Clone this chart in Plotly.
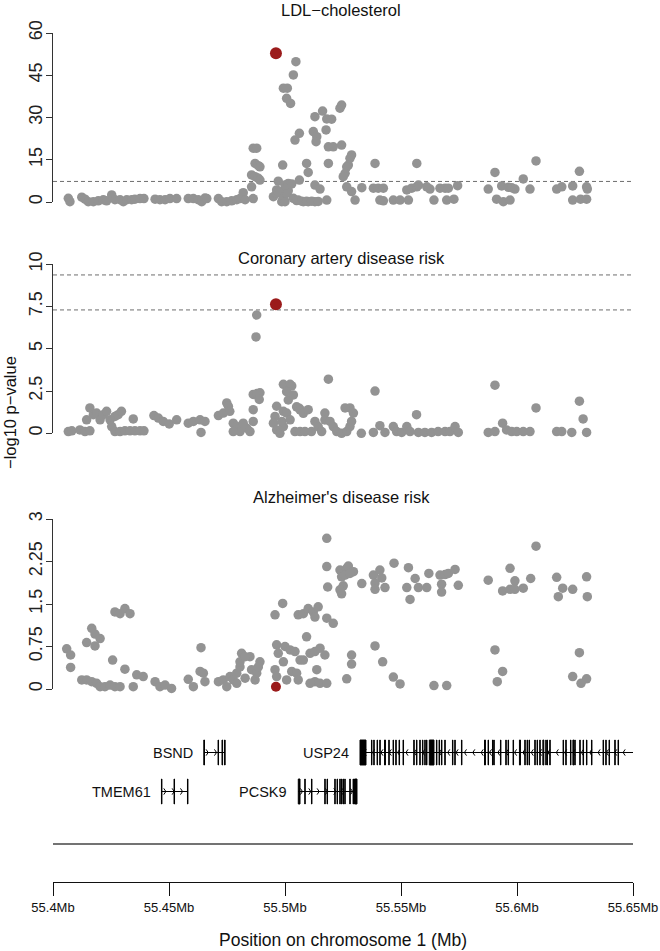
import numpy as np
import plotly.graph_objects as go

FONT = "Liberation Sans, Arial, Helvetica, sans-serif"

# ---------------- data ----------------
x_ticks = [55.4, 55.45, 55.5, 55.55, 55.6, 55.65]
x_ticktext = ["55.4Mb", "55.45Mb", "55.5Mb", "55.55Mb", "55.6Mb", "55.65Mb"]

ldl_ticks = [0, 15, 30, 45, 60]
cad_ticks = [0, 2.5, 5, 7.5, 10]
ad_ticks = [0, 0.75, 1.5, 2.25, 3]

ldl_threshold = [7.3]
cad_threshold = [7.3, 9.37]

lead_pos = 55.4961
lead_ldl = 52.8
lead_cad = 7.63
lead_ad = 0.04

ldl_pos = [55.4066, 55.4073, 55.4124, 55.4138, 55.4152, 55.4174, 55.4195, 55.4217, 55.4231, 55.4253, 55.4267, 55.4289, 55.4303, 55.4318, 55.4339, 55.4353, 55.4375, 55.4392,
           55.4440, 55.4461, 55.4483, 55.4504, 55.4533,
           55.4583, 55.4605, 55.4626, 55.4641, 55.4655, 55.4663,
           55.4713, 55.4727, 55.4749, 55.4770, 55.4792, 55.4806, 55.4820, 55.4828, 55.4856, 55.4863,
           55.4863, 55.4878, 55.4871, 55.4885, 55.4892, 55.4856, 55.4871, 55.4885, 55.4892,
           55.4950, 55.4964, 55.4964, 55.4971, 55.4978, 55.4986, 55.4993, 55.5000, 55.5007, 55.5014, 55.5000, 55.5014, 55.5029,
           55.5047, 55.5036, 55.4993, 55.5010, 55.5007, 55.5024, 55.5043, 55.5062, 55.4990, 55.5062, 55.5036, 55.5057, 55.5079, 55.5100, 55.5129,
           55.5050, 55.5072, 55.5093, 55.5115, 55.5143,
           55.5093, 55.5100, 55.5122, 55.5137, 55.5129, 55.5134, 55.5162, 55.5177, 55.5180, 55.5129, 55.5151, 55.5180, 55.5187, 55.5187,
           55.5201, 55.5208, 55.5237, 55.5244, 55.5244, 55.5287, 55.5280, 55.5273, 55.5266, 55.5259, 55.5251, 55.5266, 55.5287, 55.5302, 55.5331,
           55.5388, 55.5381, 55.5402, 55.5424, 55.5409, 55.5424, 55.5467, 55.5496, 55.5532, 55.5525, 55.5546, 55.5568, 55.5575, 55.5568, 55.5611, 55.5625, 55.5642, 55.5668, 55.5690, 55.5704, 55.5697, 55.5728, 55.5744,
           55.5876, 55.5905, 55.5912, 55.5941, 55.5970, 55.5934, 55.5963, 55.5977, 55.5991, 55.6027, 55.6056, 55.6082, 55.6171, 55.6193, 55.6240, 55.6240, 55.6274, 55.6300, 55.6269, 55.6300, 55.6303]
ldl_val = [1.3, 0.1, 1.7, 1.0, 0.1, 0.1, 0.4, 0.8, 0.4, 2.5, 0.8, 0.8, 0.1, 0.8, 0.8, 1.0, 1.2, 1.2,
           1.0, 0.8, 0.8, 1.2, 1.2,
           1.2, 1.2, 0.8, 0.1, 1.4, 1.2,
           1.2, 0.1, 0.1, 0.4, 0.8, 1.2, 3.3, 0.8, 5.4, 1.2,
           19.1, 19.1, 13.7, 12.9, 12.5, 9.6, 9.0, 8.4, 7.8,
           1.9, 3.1, 4.3, 7.4, 3.7, 0.1, 1.3, 0.1, 3.1, 4.0, 6.0, 6.6, 6.4,
           49.8, 45.1, 40.4, 40.4, 36.8, 35.0, 22.0, 24.4, 13.1, 7.8, 1.3, 0.7, 0.1, 0.1, 0.1,
           0.5, 0.3, 0.3, 0.3, 0.2,
           13.7, 10.5, 25.0, 23.2, 30.3, 21.4, 32.3, 25.6, 29.5, 6.0, 4.6, 0.7, 19.6, 13.7,
           29.4, 19.6, 33.3, 34.4, 20.2, 16.7, 15.5, 13.1, 12.5, 10.2, 9.0, 5.4, 3.7, 0.7, 5.1,
           13.7, 4.9, 4.9, 4.9, 0.7, 0.4, 0.7, 0.7, 0.7, 4.3, 4.9, 5.4, 6.0, 13.7, 5.4, 4.6, 0.7, 4.9, 4.9, 4.9, 0.7, 1.0, 5.8,
           4.6, 10.5, 1.0, 0.1, 0.7, 5.7, 5.2, 5.1, 4.6, 8.2, 4.6, 14.6, 4.6, 5.4, 5.7, 0.7, 1.0, 1.0, 10.9, 5.4, 4.6]

cad_pos = [55.4066, 55.4081, 55.4116, 55.4138, 55.4159, 55.4159,
           55.4145, 55.4174, 55.4188, 55.4203, 55.4217, 55.4231, 55.4246, 55.4267, 55.4281, 55.4295,
           55.4253, 55.4267, 55.4289, 55.4310, 55.4332, 55.4353, 55.4375, 55.4392, 55.4346,
           55.4435, 55.4454, 55.4475, 55.4501, 55.4533,
           55.4583, 55.4605, 55.4634, 55.4655, 55.4638,
           55.4713, 55.4734, 55.4749, 55.4756, 55.4762,
           55.4777, 55.4792, 55.4806, 55.4820, 55.4835, 55.4849, 55.4863, 55.4777,
           55.4863, 55.4863, 55.4878, 55.4892, 55.4889, 55.4878, 55.4875,
           55.4964, 55.4957, 55.4950, 55.4964, 55.4978, 55.4993, 55.4993, 55.5007, 55.4986, 55.5022,
           55.4993, 55.5022, 55.5029, 55.5007, 55.5014, 55.5036, 55.5050, 55.5062, 55.5065, 55.5079,
           55.5043, 55.5065, 55.5086, 55.5100, 55.5114, 55.5129, 55.5143, 55.5158, 55.5172, 55.5187, 55.5172,
           55.5194, 55.5208, 55.5223, 55.5244, 55.5266, 55.5280, 55.5287, 55.5295, 55.5280, 55.5259,
           55.5329, 55.5388, 55.5381, 55.5409, 55.5431,
           55.5467, 55.5481, 55.5503, 55.5525, 55.5539, 55.5567, 55.5575,
           55.5603, 55.5632, 55.5660, 55.5690, 55.5711, 55.5733, 55.5747,
           55.5876, 55.5905, 55.5938, 55.5955, 55.5977, 55.5999, 55.6027, 55.6056, 55.5905, 55.6082,
           55.6171, 55.6193, 55.6236, 55.6285, 55.6300, 55.6269]
cad_val = [0.1, 0.15, 0.2, 0.1, 0.15, 1.5,
           0.8, 1.1, 1.2, 0.8, 1.1, 1.3, 0.8, 1.0, 1.1, 1.3,
           0.4, 0.1, 0.1, 0.15, 0.15, 0.15, 0.15, 0.15, 0.85,
           1.05, 0.9, 0.7, 0.55, 0.8,
           0.6, 0.7, 0.8, 0.7, 0.05,
           1.05, 1.2, 1.8, 1.6, 1.3,
           0.6, 0.4, 0.1, 0.6, 0.3, 0.1, 0.7, 0.1,
           1.4, 2.3, 2.35, 2.4, 2.0, 7.0, 5.7,
           1.6, 1.0, 0.6, 0.2, 0.0, 0.4, 1.3, 1.2, 0.7, 0.8,
           2.9, 2.9, 2.8, 2.46, 1.97, 2.27, 1.57, 1.48, 1.38, 1.18,
           0.1, 0.1, 0.1, 1.4, 0.1, 0.7, 0.4, 0.1, 1.2, 3.2, 0.79,
           0.7, 0.4, 0.1, 0.0, 0.1, 0.4, 0.7, 1.2, 1.5, 1.5,
           0.0, 2.5, 0.05, 0.45, 0.05,
           0.4, 0.1, 0.05, 0.4, 0.1, 1.1, 0.05,
           0.05, 0.05, 0.1, 0.1, 0.1, 0.4, 0.05,
           0.05, 0.1, 0.6, 0.2, 0.1, 0.1, 0.1, 0.1, 2.85, 1.5,
           0.1, 0.1, 0.05, 0.85, 0.05, 1.9]

ad_pos = [55.4059, 55.4076, 55.4076,
          55.4124, 55.4145, 55.4167, 55.4188, 55.4203, 55.4224, 55.4246, 55.4267, 55.4289,
          55.4145, 55.4167, 55.4181, 55.4203, 55.4181, 55.4257,
          55.4267, 55.4289, 55.4310, 55.4332, 55.4310,
          55.4346, 55.4361, 55.4389,
          55.4440, 55.4461, 55.4483, 55.4511,
          55.4583, 55.4605, 55.4634, 55.4648, 55.4655, 55.4638,
          55.4713, 55.4734, 55.4749, 55.4763, 55.4777, 55.4792, 55.4806, 55.4813, 55.4828, 55.4849, 55.4856, 55.4871, 55.4878, 55.4892, 55.4885, 55.4806, 55.4828, 55.4792,
          55.4957, 55.4990,
          55.4964, 55.4971, 55.4993, 55.4957, 55.4964, 55.5000, 55.5022, 55.5043, 55.5007, 55.5029, 55.5050, 55.5057, 55.5065, 55.5079,
          55.5057, 55.5079, 55.5100, 55.5122, 55.5143, 55.5129,
          55.5093, 55.5108, 55.5129, 55.5151, 55.5172, 55.5137, 55.5129, 55.5108, 55.5151,
          55.5180, 55.5180, 55.5184, 55.5180, 55.5180, 55.5208,
          55.5237, 55.5251, 55.5266, 55.5273, 55.5295, 55.5244, 55.5259, 55.5280, 55.5251, 55.5244, 55.5237,
          55.5331, 55.5287, 55.5287, 55.5266,
          55.5381, 55.5409, 55.5417, 55.5388, 55.5388, 55.5431, 55.5388, 55.5421,
          55.5470, 55.5467, 55.5496,
          55.5532, 55.5561, 55.5525, 55.5575, 55.5539, 55.5611, 55.5620,
          55.5668, 55.5690, 55.5704, 55.5733, 55.5675, 55.5675, 55.5747, 55.5642, 55.5697,
          55.5876, 55.5905, 55.5938, 55.5915,
          55.5970, 55.5991, 55.5938, 55.5970, 55.5991, 55.6027, 55.6059, 55.6082,
          55.6171, 55.6197, 55.6178, 55.6240, 55.6300, 55.6303, 55.6269, 55.6240, 55.6276, 55.6300]
ad_val = [0.71, 0.6, 0.38,
          0.16, 0.16, 0.13, 0.10, 0.04, 0.04, 0.07, 0.04, 0.04,
          0.82, 1.07, 0.97, 0.89, 0.76, 0.51,
          1.36, 1.33, 1.42, 1.33, 0.35,
          0.04, 0.25, 0.22,
          0.13, 0.04, 0.07, 0.01,
          0.17, 0.04, 0.31, 0.28, 0.13, 0.73,
          0.13, 0.16, 0.04, 0.22, 0.16, 0.10, 0.39, 0.63, 0.19, 0.57, 0.34, 0.16, 0.28, 0.48, 0.39, 0.48, 0.57, 0.28,
          1.31, 1.51,
          0.78, 0.63, 0.48, 0.34, 0.22, 0.75, 0.69, 0.66, 0.16, 0.31, 0.28, 0.16, 0.51, 0.51,
          1.31, 1.33, 1.42, 1.36, 1.45, 1.27,
          0.92, 0.63, 0.66, 0.72, 0.60, 0.34, 0.13, 0.10, 0.10,
          2.66, 2.16, 1.80, 1.25, 0.10, 1.16,
          2.10, 2.04, 2.13, 2.17, 2.07, 1.98, 2.01, 2.04, 1.82, 1.68, 1.75,
          1.86, 0.60, 0.44, 0.18,
          2.01, 2.10, 1.96, 1.87, 1.76, 1.79, 0.76, 0.48,
          2.22, 0.21, 0.09,
          2.14, 1.95, 1.79, 1.79, 1.58, 1.79, 2.04,
          2.01, 2.02, 2.04, 2.11, 1.85, 1.71, 1.83, 0.06, 0.06,
          1.92, 0.69, 0.31, 0.13,
          2.13, 1.91, 1.73, 1.76, 1.76, 1.78, 1.95, 2.52,
          1.97, 1.78, 1.63, 1.76, 1.98, 1.63, 0.64, 0.22, 0.10, 0.18]

# genes: name, row, strand, start, end, exons (start, end) in Mb
gene_names = ["BSND", "USP24", "TMEM61", "PCSK9"]
gene_rows = [1, 1, 2, 2]
gene_strands = ["+", "-", "+", "+"]
gene_starts = [55.46509, 55.53233, 55.44685, 55.50573]
gene_ends = [55.47414, 55.65013, 55.45806, 55.53103]
bsnd_exons = [(55.46500, 55.46530), (55.47115, 55.47135), (55.47285, 55.47310), (55.47395, 55.47420)]
usp24_exons = [(55.53233, 55.53491), (55.53727, 55.53747), (55.53826, 55.53846), (55.53969, 55.53989),
               (55.54085, 55.54105), (55.54290, 55.54330), (55.54473, 55.54493), (55.54658, 55.54678),
               (55.54774, 55.54794), (55.54917, 55.54937), (55.55089, 55.55109), (55.55550, 55.55570),
               (55.55667, 55.55687), (55.55809, 55.55829), (55.55925, 55.55945), (55.56024, 55.56044),
               (55.56098, 55.56118), (55.56220, 55.56422), (55.56527, 55.56547), (55.56641, 55.56661),
               (55.56744, 55.56764), (55.56887, 55.56907), (55.57218, 55.57238), (55.57318, 55.57338),
               (55.57606, 55.57626), (55.58600, 55.58640), (55.58753, 55.58773), (55.58943, 55.58963),
               (55.58999, 55.59019), (55.59287, 55.59307), (55.59516, 55.59536), (55.59616, 55.59636),
               (55.59831, 55.59851), (55.60105, 55.60150), (55.60335, 55.60355), (55.60434, 55.60454),
               (55.60520, 55.60540), (55.60766, 55.60786), (55.60865, 55.60885), (55.60981, 55.61001),
               (55.61115, 55.61155), (55.61240, 55.61260), (55.61296, 55.61316), (55.61412, 55.61432),
               (55.61986, 55.62006), (55.62102, 55.62122), (55.62305, 55.62325), (55.62410, 55.62450),
               (55.62490, 55.62510), (55.62706, 55.62726), (55.62848, 55.62868), (55.62994, 55.63014),
               (55.63210, 55.63230), (55.63710, 55.63730), (55.63826, 55.63846), (55.63968, 55.63988),
               (55.64214, 55.64234), (55.64356, 55.64376)]
tmem61_exons = [(55.44675, 55.44695), (55.45218, 55.45238), (55.45796, 55.45816)]
pcsk9_exons = [(55.50573, 55.50647), (55.50852, 55.50872), (55.51141, 55.51161), (55.51714, 55.51734),
               (55.51813, 55.51833), (55.52145, 55.52165), (55.52244, 55.52264), (55.52361, 55.52381),
               (55.52434, 55.52454), (55.52503, 55.52523), (55.52576, 55.52596), (55.52792, 55.52812),
               (55.52934, 55.52954), (55.52996, 55.53103)]
gene_exons = [bsnd_exons, usp24_exons, tmem61_exons, pcsk9_exons]

GRAY = "#939393"
RED = "#9b1b1b"
AXC = "#333333"

H = 951.0


def pdom(top_px, bottom_px):
    return [1 - bottom_px / H, 1 - top_px / H]


fig = go.Figure()

# scatter panels
panels = [("y", ldl_pos, ldl_val, lead_ldl, 12, True),
          ("y2", cad_pos, cad_val, lead_cad, 12, True),
          ("y3", ad_pos, ad_val, lead_ad, 10, False)]
for yax, xs, ys, lead_y, lead_size, lead_on_top in panels:
    lead_trace = go.Scatter(x=[lead_pos], y=[lead_y], mode="markers", xaxis="x", yaxis=yax,
                            marker=dict(color=RED, size=lead_size, line=dict(width=0)),
                            cliponaxis=False, hoverinfo="skip", showlegend=False)
    main_trace = go.Scatter(x=xs, y=ys, mode="markers", xaxis="x", yaxis=yax,
                            marker=dict(color=GRAY, size=9.5, line=dict(width=0)),
                            cliponaxis=False, hoverinfo="skip", showlegend=False)
    if lead_on_top:
        fig.add_trace(main_trace)
        fig.add_trace(lead_trace)
    else:
        fig.add_trace(lead_trace)
        fig.add_trace(main_trace)

shapes = []
for yref, ths in (("y", ldl_threshold), ("y2", cad_threshold)):
    for t in ths:
        shapes.append(dict(type="line", xref="x", yref=yref, x0=55.4, x1=55.65, y0=t, y1=t,
                           line=dict(color="#6e6e6e", width=1, dash="4px,3px"), layer="below"))

# gene track
chev_x, chev_y = [], []
line_x, line_y = [], []
annotations = []
for name, row, strand, s, e, exons in zip(gene_names, gene_rows, gene_strands, gene_starts, gene_ends, gene_exons):
    line_x += [s, e, None]
    line_y += [row, row, None]
    for (a, b) in exons:
        shapes.append(dict(type="rect", xref="x", yref="y4", x0=a, x1=b, y0=row - 0.32, y1=row + 0.32,
                           line=dict(color="black", width=1), fillcolor="black"))
    step = 0.0036
    dx = 0.0009 if strand == "+" else -0.0009
    for c in np.arange(s + step / 2, e - 0.0008, step):
        chev_x += [c - dx, c, c - dx, None]
        chev_y += [row - 0.08, row, row + 0.08, None]
    annotations.append(dict(xref="x", yref="y4", x=s, y=row, text=name, showarrow=False,
                            xanchor="right", yanchor="middle", xshift=-9,
                            font=dict(family=FONT, size=14.5, color="#111")))

fig.add_trace(go.Scatter(x=line_x, y=line_y, mode="lines", xaxis="x", yaxis="y4",
                         line=dict(color="black", width=1), hoverinfo="skip", showlegend=False))
fig.add_trace(go.Scatter(x=chev_x, y=chev_y, mode="lines", xaxis="x", yaxis="y4",
                         line=dict(color="black", width=1), hoverinfo="skip", showlegend=False))

# horizontal separator line below genes
shapes.append(dict(type="line", xref="x", yref="paper", x0=55.4, x1=55.65, y0=1 - 844 / H, y1=1 - 844 / H,
                   line=dict(color="#444444", width=1.3)))

# titles
for txt, py in (("LDL\u2212cholesterol", 9.5), ("Coronary artery disease risk", 258),
                ("Alzheimer's disease risk", 497.5)):
    annotations.append(dict(xref="paper", yref="paper", x=0.4966, y=1 - py / H, text=txt, showarrow=False,
                            xanchor="center", yanchor="middle", font=dict(family=FONT, size=16.5, color="#111")))
annotations.append(dict(xref="paper", yref="paper", x=(10 - 53) / 580.0, y=1 - 413 / H,
                        text="\u2212log10 p\u2212value", textangle=-90, showarrow=False,
                        xanchor="center", yanchor="middle", font=dict(family=FONT, size=16.5, color="#111")))
annotations.append(dict(xref="paper", yref="paper", x=(343 - 53) / 580.0, y=1 - 940 / H,
                        text="Position on chromosome 1 (Mb)", showarrow=False,
                        xanchor="center", yanchor="middle", font=dict(family=FONT, size=17.5, color="#111")))

ycommon = dict(anchor="x", showgrid=False, zeroline=False, showline=True, linecolor=AXC, linewidth=1,
               ticks="outside", ticklen=6, tickwidth=1, tickcolor=AXC, tickangle=-90,
               ticklabelstandoff=-3, automargin=False,
               tickfont=dict(family=FONT, size=18, color="#222"), fixedrange=True)

fig.update_layout(
    width=660, height=951, autosize=False,
    margin=dict(l=53, r=27, t=0, b=0, pad=0, autoexpand=False),
    paper_bgcolor="white", plot_bgcolor="white",
    showlegend=False,
    xaxis=dict(range=[55.4, 55.65], domain=[0, 1], anchor="free", position=1 - 882 / H,
               showgrid=False, zeroline=False, showline=True, linecolor="#111", linewidth=1,
               ticks="outside", ticklen=13, tickwidth=1, tickcolor="#111", automargin=False,
               tickvals=x_ticks, ticktext=x_ticktext,
               tickfont=dict(family=FONT, size=13, color="#111"), fixedrange=True),
    yaxis=dict(domain=pdom(33, 202), range=[0, 60], tickvals=ldl_ticks,
               ticktext=[str(v) for v in ldl_ticks], **ycommon),
    yaxis2=dict(domain=pdom(264.3, 433.3), range=[0, 10], tickvals=cad_ticks,
                ticktext=["0", "2.5", "5", "7.5", "10"], **ycommon),
    yaxis3=dict(domain=pdom(519, 689), range=[0, 3], tickvals=ad_ticks,
                ticktext=["0", "0.75", "1.5", "2.25", "3"], **ycommon),
    yaxis4=dict(domain=pdom(720, 844), range=[3.346, 0.1667], anchor="x", visible=False,
                fixedrange=True, automargin=False),
    shapes=shapes,
    annotations=annotations,
)

fig.write_html("out.html", config={"displayModeBar": False},
               post_script="document.body.style.margin='0px';document.body.style.overflow='hidden';")
